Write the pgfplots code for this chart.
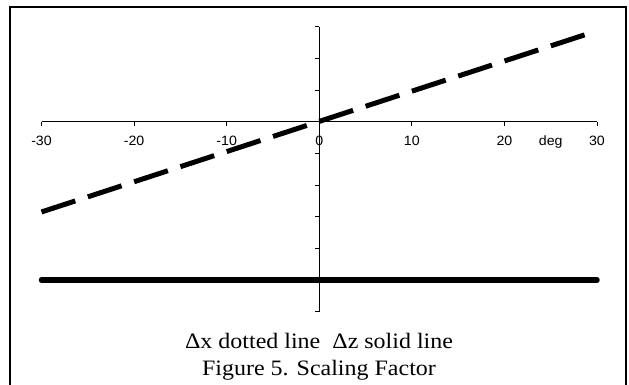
\documentclass[border=0pt]{standalone}
\usepackage{pgfplots}
\pgfplotsset{compat=1.18}
\usepackage{fontspec}
\setmainfont{Liberation Serif}
\newfontfamily\tickfont[FakeStretch=1.05]{Liberation Sans}
\newfontfamily\capfont[FakeStretch=1.09]{Liberation Serif}
\begin{document}
\begin{tikzpicture}
\useasboundingbox (0,0) rectangle (629bp,385bp);
% frame
\draw[line width=2bp] (10bp,0) -- (10bp,377.7bp) -- (626bp,377.7bp) -- (626bp,0);
\begin{axis}[
  at={(41.5bp,73.3bp)}, anchor=south west,
  scale only axis, width=555.5bp, height=285bp,
  xmin=-30, xmax=30, ymin=-6, ymax=3,
  axis lines=middle,
  axis line style={-, line width=0.8bp, black},
  xtick={-30,-20,-10,0,10,20,30},
  xticklabels={-30,-20,-10,0,10,20,30},
  ytick={-6,-5,-4,-3,-2,-1,0,1,2,3},
  yticklabels={},
  hide obscured x ticks=false,
  hide obscured y ticks=false,
  major tick length=4bp,
  tick style={black, line width=0.8bp},
  xtick style={yshift=-2bp},
  ytick style={xshift=-1.8bp},
  xticklabel style={font=\tickfont\fontsize{13.5bp}{15bp}\selectfont, anchor=base, yshift=-22bp, inner sep=0pt},
  clip=false,
]
\addplot[black, line width=5bp, line cap=butt, dash pattern=on 35.5bp off 13.2bp]
  coordinates {(-30,-2.85) (0,0.01) (30,2.87)};
\addplot[black, line width=5.5bp, line cap=round]
  coordinates {(-30,-5) (30,-5)};
\node[font=\tickfont\fontsize{13.5bp}{15bp}\selectfont, anchor=base, inner sep=0pt] at (axis cs:25,0) [yshift=-23.3bp] {deg};
\end{axis}
\node[font=\capfont\fontsize{22bp}{26bp}\selectfont, anchor=base, inner sep=0pt] at (319bp,36.7bp) {Δx dotted line\ \ Δz solid line};
\node[font=\capfont\fontsize{22bp}{26bp}\selectfont, anchor=base, inner sep=0pt] at (319bp,10bp) {Figure 5. Scaling Factor};
\end{tikzpicture}
\end{document}
